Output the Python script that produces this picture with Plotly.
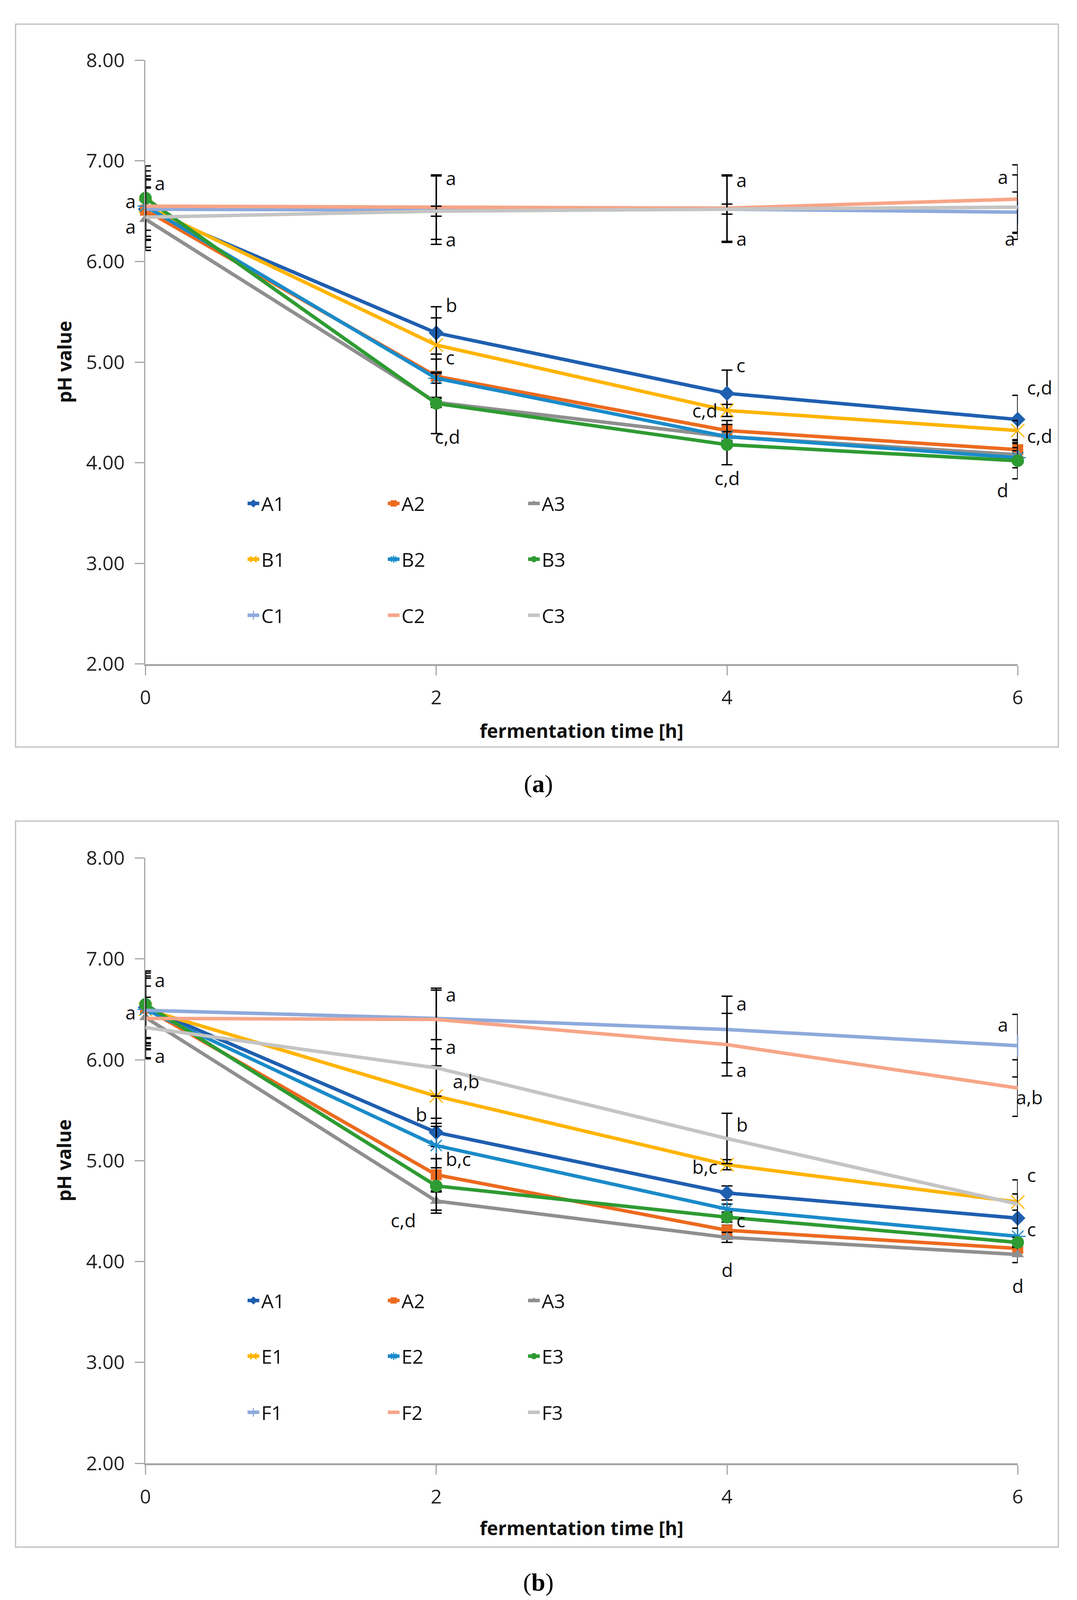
import plotly.graph_objects as go

# ==========================================================
# Data
# ==========================================================

time_h = [0, 2, 4, 6]

# panel (a)
a_names = ["A1", "A2", "A3", "B1", "B2", "B3", "C1", "C2", "C3"]
a_A1 = [6.52, 5.29, 4.69, 4.43]
a_A2 = [6.51, 4.86, 4.32, 4.13]
a_A3 = [6.42, 4.60, 4.26, 4.08]
a_B1 = [6.55, 5.17, 4.52, 4.32]
a_B2 = [6.55, 4.84, 4.26, 4.05]
a_B3 = [6.63, 4.59, 4.18, 4.02]
a_C1 = [6.52, 6.51, 6.52, 6.49]
a_C2 = [6.55, 6.54, 6.53, 6.62]
a_C3 = [6.44, 6.50, 6.52, 6.54]

a_err_A1 = [0.38, 0.26, 0.23, 0.24]
a_err_A2 = [0.30, 0.22, 0.10, 0.10]
a_err_A3 = [0.31, 0.05, 0.05, 0.04]
a_err_B1 = [0.30, 0.27, 0.06, 0.10]
a_err_B2 = [0.30, 0.05, 0.05, 0.10]
a_err_B3 = [0.32, 0.30, 0.20, 0.18]
a_err_C1 = [0.30, 0.34, 0.33, 0.20]
a_err_C2 = [0.30, 0.32, 0.33, 0.34]
a_err_C3 = [0.30, 0.05, 0.05, 0.32]

# panel (b)
b_names = ["A1", "A2", "A3", "E1", "E2", "E3", "F1", "F2", "F3"]
b_A1 = [6.52, 5.28, 4.68, 4.43]
b_A2 = [6.51, 4.86, 4.31, 4.13]
b_A3 = [6.42, 4.60, 4.24, 4.07]
b_E1 = [6.50, 5.64, 4.96, 4.59]
b_E2 = [6.50, 5.15, 4.52, 4.25]
b_E3 = [6.55, 4.75, 4.44, 4.19]
b_F1 = [6.49, 6.41, 6.30, 6.14]
b_F2 = [6.41, 6.40, 6.15, 5.72]
b_F3 = [6.32, 5.92, 5.22, 4.57]

b_err_A1 = [0.36, 0.14, 0.07, 0.24]
b_err_A2 = [0.30, 0.16, 0.05, 0.05]
b_err_A3 = [0.31, 0.09, 0.05, 0.08]
b_err_E1 = [0.33, 0.30, 0.05, 0.08]
b_err_E2 = [0.36, 0.22, 0.05, 0.08]
b_err_E3 = [0.33, 0.27, 0.05, 0.05]
b_err_F1 = [0.39, 0.30, 0.33, 0.31]
b_err_F2 = [0.40, 0.29, 0.31, 0.28]
b_err_F3 = [0.30, 0.28, 0.25, 0.24]

# significance letters: x, y, text, side
a_let_x = [0, 0, 0, 2, 2, 2, 2, 2, 4, 4, 4, 4, 4, 6, 6, 6, 6, 6]
a_let_y = [6.78, 6.60, 6.35, 6.83, 6.22, 5.57, 5.05, 4.26,
           6.81, 6.23, 4.97, 4.52, 3.85, 6.84, 6.23, 4.75, 4.27, 3.73]
a_let_t = ["a", "a", "a", "a", "a", "b", "c", "c,d",
           "a", "a", "c", "c,d", "c,d", "a", "a", "c,d", "c,d", "d"]
a_let_s = ["r", "l", "l", "r", "r", "r", "r", "rb",
           "r", "r", "r", "l", "c", "l", "lb", "r", "r", "l"]

b_let_x = [0, 0, 0, 2, 2, 2, 2, 2, 2, 4, 4, 4, 4, 4, 4, 6, 6, 6, 6, 6]
b_let_y = [6.79, 6.47, 6.04, 6.65, 6.13, 5.79, 5.46, 5.02, 4.41,
           6.56, 5.90, 5.36, 4.94, 4.41, 3.92, 6.35, 5.63, 4.86, 4.32, 3.76]
b_let_t = ["a", "a", "a", "a", "a", "a,b", "b", "b,c", "c,d",
           "a", "a", "b", "b,c", "c", "d", "a", "a,b", "c", "c", "d"]
b_let_s = ["r", "l", "r", "r", "r", "rr", "l", "r", "ll",
           "r", "r", "r", "l", "r", "c", "l", "rb", "r", "r", "c"]

# ==========================================================
# Page geometry (the page body adds an 8 px margin)
# ==========================================================

PAGE_W, PAGE_H = 2757, 4151
OFF = 8
FW, FH = PAGE_W - 2 * OFF, PAGE_H - 2 * OFF


def px(x):
    return (x - OFF) / FW


def py(y):
    return 1 - (y - OFF) / FH


FONT = "Open Sans"

colors = ["#1f5fb0", "#ec6a1f", "#8f8f8f", "#ffb400", "#1a8bc9",
          "#2e9b32", "#8eaadc", "#f7a588", "#c4c4c4"]
symbols = ["diamond", "square", "triangle-up", "x-thin", "asterisk-open",
           "line-ns", None, None, None]
symbols[5] = "circle"
symbols[6] = "line-ns"
msizes = [30, 28, 28, 34, 34, 32, 40, 0, 0]

fig = go.Figure()


def add_panel(names, series, errors, xa, ya, legends):
    for i, (name, vals, err) in enumerate(zip(names, series, errors)):
        sym = symbols[i]
        marker = dict(color=colors[i], size=msizes[i])
        if sym is not None:
            marker["symbol"] = sym
            if sym in ("x-thin", "asterisk-open", "line-ns"):
                marker["line"] = dict(color=colors[i], width=3)
        fig.add_trace(
            go.Scatter(
                x=time_h,
                y=vals,
                name=name,
                mode="lines+markers" if sym else "lines",
                line=dict(color=colors[i], width=9),
                marker=marker,
                error_y=dict(type="data", array=err, color="black",
                             thickness=3.5, width=14),
                xaxis=xa,
                yaxis=ya,
                legend=legends[i // 3],
                cliponaxis=False,
            )
        )


add_panel(a_names,
          [a_A1, a_A2, a_A3, a_B1, a_B2, a_B3, a_C1, a_C2, a_C3],
          [a_err_A1, a_err_A2, a_err_A3, a_err_B1, a_err_B2, a_err_B3,
           a_err_C1, a_err_C2, a_err_C3],
          "x", "y", ["legend", "legend2", "legend3"])
add_panel(b_names,
          [b_A1, b_A2, b_A3, b_E1, b_E2, b_E3, b_F1, b_F2, b_F3],
          [b_err_A1, b_err_A2, b_err_A3, b_err_E1, b_err_E2, b_err_E3,
           b_err_F1, b_err_F2, b_err_F3],
          "x2", "y2", ["legend4", "legend5", "legend6"])

# ==========================================================
# Letters, titles, captions
# ==========================================================

side_map = {
    "r": ("left", 22),
    "rr": ("left", 40),
    "rb": ("left", -6),
    "l": ("right", -22),
    "ll": ("right", -50),
    "lb": ("right", -4),
    "c": ("center", 0),
}

annotations = []
for xs, ys, ts, ss, xref, yref in [
    (a_let_x, a_let_y, a_let_t, a_let_s, "x", "y"),
    (b_let_x, b_let_y, b_let_t, b_let_s, "x2", "y2"),
]:
    for x, y, t, s in zip(xs, ys, ts, ss):
        anchor, shift = side_map[s]
        annotations.append(dict(
            x=x, y=y, text=t, xref=xref, yref=yref, showarrow=False,
            xanchor=anchor, yanchor="middle", xshift=shift,
            font=dict(family=FONT, size=48, color="#111"),
        ))

x_dom = [px(362), px(2618)]
ya_dom = [py(1692), py(120)]
yb_dom = [py(3773), py(2197)]

for ydom, ytitle, ycap, cap in [
    (ya_dom, 1866, 2004, "a"),
    (yb_dom, 3941, 4082, "b"),
]:
    annotations.append(dict(
        x=px(151), y=sum(ydom) / 2, xref="paper", yref="paper",
        text="<b>pH value</b>", textangle=-90, showarrow=False,
        xanchor="center", yanchor="middle",
        font=dict(family=FONT, size=48, color="#111"),
    ))
    annotations.append(dict(
        x=sum(x_dom) / 2, y=py(ytitle), xref="paper", yref="paper",
        text="<b>fermentation time [h]</b>", showarrow=False,
        xanchor="center", yanchor="middle",
        font=dict(family=FONT, size=48, color="#111"),
    ))
    annotations.append(dict(
        x=px(1378), y=py(ycap), xref="paper", yref="paper",
        text=f"(<b>{cap}</b>)", showarrow=False,
        xanchor="center", yanchor="middle",
        font=dict(family="Liberation Serif", size=64, color="#000"),
    ))

frames = [
    dict(type="rect", xref="paper", yref="paper", x0=px(26), x1=px(2723),
         y0=py(1908), y1=py(26), line=dict(color="#bdbdbd", width=3)),
    dict(type="rect", xref="paper", yref="paper", x0=px(26), x1=px(2723),
         y0=py(3991), y1=py(2101), line=dict(color="#bdbdbd", width=3)),
]

xaxis_style = dict(
    range=[0, 6], tickvals=time_h, showgrid=False, zeroline=False,
    showline=True, linecolor="#a6a6a6", linewidth=5,
    ticks="outside", ticklen=24, tickwidth=3, tickcolor="#a6a6a6",
    ticklabelstandoff=14, domain=x_dom,
    tickfont=dict(family=FONT, size=50, color="#222"),
)
yaxis_style = dict(
    range=[2, 8], dtick=1, tickformat=".2f", showgrid=False, zeroline=False,
    showline=True, linecolor="#a6a6a6", linewidth=3,
    ticks="outside", ticklen=24, tickwidth=3, tickcolor="#a6a6a6",
    ticklabelstandoff=16,
    tickfont=dict(family=FONT, size=50, color="#222"),
)

legend_rows = [1274, 1419, 1565, 3349, 3494, 3640]
legend_layout = {}
for i, yrow in enumerate(legend_rows):
    key = "legend" if i == 0 else f"legend{i + 1}"
    legend_layout[key] = dict(
        x=px(621), y=py(yrow), xanchor="left", yanchor="middle",
        orientation="h", entrywidth=314, entrywidthmode="pixels",
        font=dict(family=FONT, size=50, color="#111"),
        bgcolor="rgba(0,0,0,0)", itemwidth=30,
    )

fig.update_layout(
    width=FW,
    height=FH,
    margin=dict(l=0, r=0, t=0, b=0),
    paper_bgcolor="white",
    plot_bgcolor="white",
    showlegend=True,
    xaxis=dict(anchor="y", **xaxis_style),
    yaxis=dict(anchor="x", domain=ya_dom, **yaxis_style),
    xaxis2=dict(anchor="y2", **xaxis_style),
    yaxis2=dict(anchor="x2", domain=yb_dom, **yaxis_style),
    annotations=annotations,
    shapes=frames,
    **legend_layout,
)

fig.write_html("out.html")
